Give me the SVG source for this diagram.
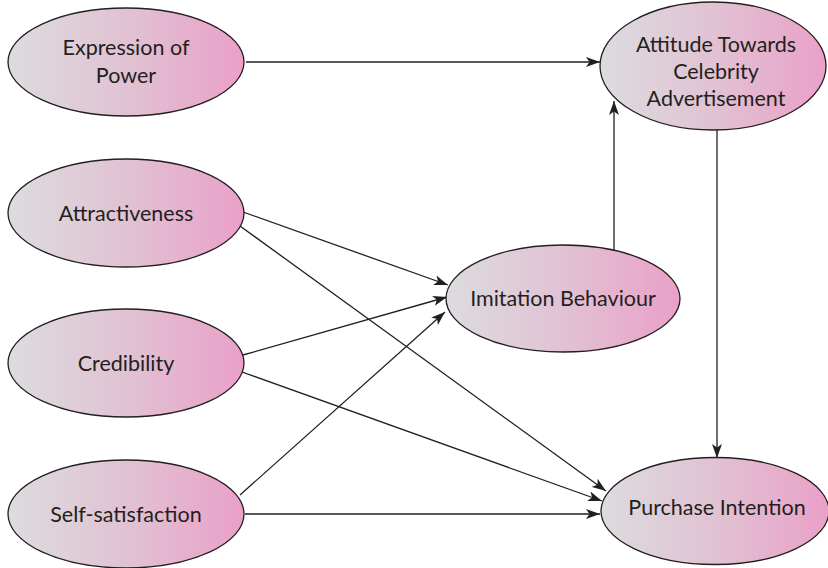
<svg xmlns="http://www.w3.org/2000/svg" width="828" height="568" viewBox="0 0 828 568">
  <defs>
    <linearGradient id="fill" x1="0" y1="0" x2="1" y2="0">
      <stop offset="0" stop-color="#dcdcdf"/>
      <stop offset="0.5" stop-color="#e1c2d3"/>
      <stop offset="1" stop-color="#eaa0c8"/>
    </linearGradient>
    <marker id="arrow" markerUnits="userSpaceOnUse" markerWidth="15" markerHeight="11" refX="14" refY="5.5" orient="auto">
      <path d="M0,0.5 L14,5.5 L0,10.5 L3.5,5.5 z" fill="#231f20"/>
    </marker>
  </defs>
  <style>
    .node ellipse { fill: url(#fill); stroke: #231f20; stroke-width: 1.3; }
    .node text { font-family: Lato, "Open Sans", sans-serif; font-size: 21.5px; fill: #231f20; text-anchor: middle; }
    .edges line { stroke: #231f20; stroke-width: 1.3; marker-end: url(#arrow); }
  </style>
  <rect width="828" height="568" fill="#ffffff"/>

  <g class="edges">
    <line x1="246" y1="62" x2="600" y2="62"/>
    <line x1="243" y1="212" x2="448" y2="285"/>
    <line x1="243" y1="355" x2="447" y2="297"/>
    <line x1="240" y1="495" x2="445" y2="312"/>
    <line x1="240" y1="226" x2="606" y2="491"/>
    <line x1="242" y1="372" x2="602" y2="501"/>
    <line x1="245" y1="514" x2="600" y2="514"/>
    <line x1="614" y1="251" x2="614" y2="101"/>
    <line x1="717" y1="130" x2="717" y2="458"/>
  </g>

  <g id="expression" class="node">
    <ellipse cx="126" cy="62" rx="118" ry="54"/>
    <text x="126" y="55">Expression of</text>
    <text x="126" y="83">Power</text>
  </g>
  <g id="attractiveness" class="node">
    <ellipse cx="126" cy="213" rx="118" ry="54"/>
    <text x="126" y="221">Attractiveness</text>
  </g>
  <g id="credibility" class="node">
    <ellipse cx="126" cy="363" rx="118" ry="54"/>
    <text x="126" y="371">Credibility</text>
  </g>
  <g id="self-satisfaction" class="node">
    <ellipse cx="126" cy="514" rx="118" ry="54"/>
    <text x="126" y="522">Self-satisfaction</text>
  </g>
  <g id="imitation" class="node">
    <ellipse cx="563" cy="298.5" rx="117" ry="53.5"/>
    <text x="563" y="306">Imitation Behaviour</text>
  </g>
  <g id="attitude" class="node">
    <ellipse cx="713" cy="66" rx="113" ry="64"/>
    <text x="716" y="52">Attitude Towards</text>
    <text x="716" y="79">Celebrity</text>
    <text x="716" y="106">Advertisement</text>
  </g>
  <g id="purchase" class="node">
    <ellipse cx="715" cy="511" rx="114" ry="53.5"/>
    <text x="717" y="515">Purchase Intention</text>
  </g>
</svg>
